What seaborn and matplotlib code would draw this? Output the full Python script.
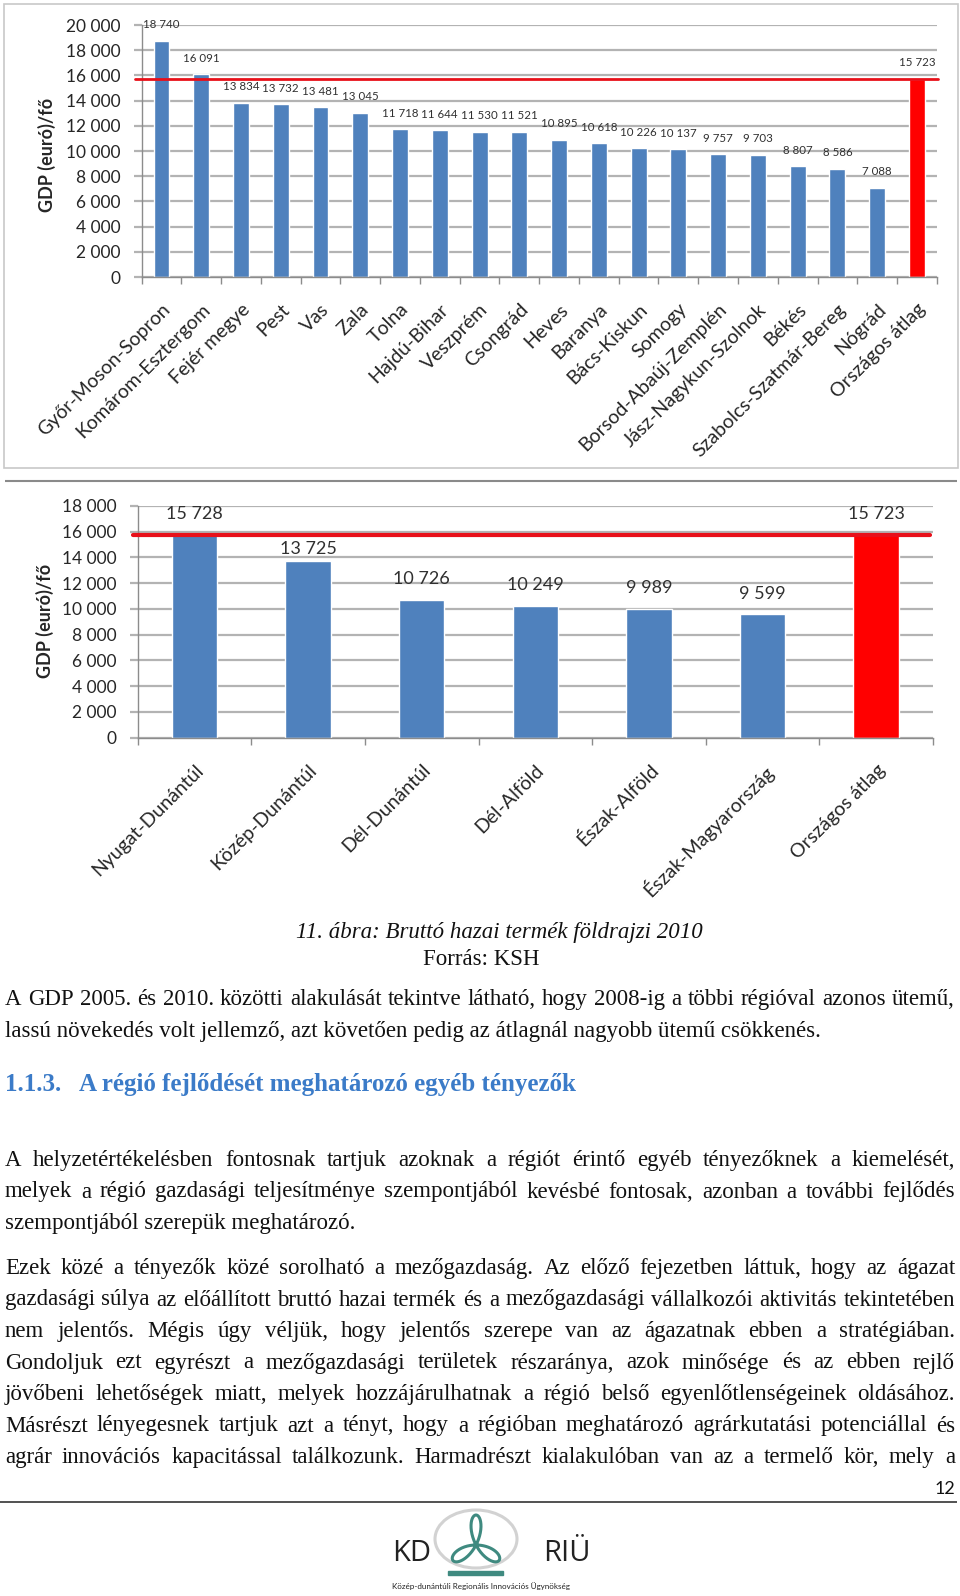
import numpy as np
import matplotlib
matplotlib.use("Agg")
import matplotlib.pyplot as plt
import seaborn as sns
from matplotlib.patches import Rectangle, Ellipse

# --- data ---
megyek = ["Győr-Moson-Sopron", "Komárom-Esztergom", "Fejér megye", "Pest", "Vas",
          "Zala", "Tolna", "Hajdú-Bihar", "Veszprém", "Csongrád", "Heves", "Baranya",
          "Bács-Kiskun", "Somogy", "Borsod-Abaúj-Zemplén", "Jász-Nagykun-Szolnok",
          "Békés", "Szabolcs-Szatmár-Bereg", "Nógrád", "Országos átlag"]
megye_gdp = [18740, 16091, 13834, 13732, 13481, 13045, 11718, 11644, 11530, 11521,
             10895, 10618, 10226, 10137, 9757, 9703, 8807, 8586, 7088, 15723]

regiok = ["Nyugat-Dunántúl", "Közép-Dunántúl", "Dél-Dunántúl", "Dél-Alföld",
          "Észak-Alföld", "Észak-Magyarország", "Országos átlag"]
regio_gdp = [15728, 13725, 10726, 10249, 9989, 9599, 15723]

orszagos_atlag = 15723

caption = "11. ábra: Bruttó hazai termék földrajzi 2010"
forras = "Forrás: KSH"
heading_num = "1.1.3."
heading = "A régió fejlődését meghatározó egyéb tényezők"

# (text, justified?)
para1 = [("A GDP 2005. és 2010. közötti alakulását tekintve látható, hogy 2008-ig a többi régióval azonos ütemű,", True),
         ("lassú növekedés volt jellemző, azt követően pedig az átlagnál nagyobb ütemű csökkenés.", False)]
para2 = [("A helyzetértékelésben fontosnak tartjuk azoknak a régiót érintő egyéb tényezőknek a kiemelését,", True),
         ("melyek a régió gazdasági teljesítménye szempontjából kevésbé fontosak, azonban a további fejlődés", True),
         ("szempontjából szerepük meghatározó.", False)]
para3 = [("Ezek közé a tényezők közé sorolható a mezőgazdaság. Az előző fejezetben láttuk, hogy az ágazat", True),
         ("gazdasági súlya az előállított bruttó hazai termék és a mezőgazdasági vállalkozói aktivitás tekintetében", True),
         ("nem jelentős. Mégis úgy véljük, hogy jelentős szerepe van az ágazatnak ebben a stratégiában.", True),
         ("Gondoljuk ezt egyrészt a mezőgazdasági területek részaránya, azok minősége és az ebben rejlő", True),
         ("jövőbeni lehetőségek miatt, melyek hozzájárulhatnak a régió belső egyenlőtlenségeinek oldásához.", True),
         ("Másrészt lényegesnek tartjuk azt a tényt, hogy a régióban meghatározó agrárkutatási potenciállal és", True),
         ("agrár innovációs kapacitással találkozunk. Harmadrészt kialakulóban van az a termelő kör, mely a", True)]

# label offsets above the bars (points); the 13 725 label sits lower in the original
megye_label_off = [11.5] * len(megyek)
regio_label_off = [15, 8.6, 15, 15, 15, 14.5, 15.5]

W, H = 960, 1596
BLUE = "#4f81bd"
RED = "#ff0000"
GRID = "#b3b3b3"
AXC = "#8c8c8c"
SANS = ["Lato", "DejaVu Sans"]
SERIF = ["Liberation Serif", "DejaVu Serif"]

sns.set_theme(style="white")
plt.rcParams["font.family"] = SANS

fig = plt.figure(figsize=(W / 100, H / 100), dpi=100)
page = fig.add_axes([0, 0, 1, 1])
page.set_xlim(0, W)
page.set_ylim(H, 0)
page.axis("off")


def px_axes(l, t, r, b):
    return fig.add_axes([l / W, 1 - b / H, (r - l) / W, (b - t) / H])


def fmt(v):
    return f"{v:,}".replace(",", " ")


def bar_chart(ax, cats, vals, ymax, val_size, val_offs, line_w, line_x):
    colors = {c: (RED if c == "Országos átlag" else BLUE) for c in cats}
    sns.barplot(x=cats, y=vals, hue=cats, palette=colors, legend=False,
                width=0.4, saturation=1, ax=ax)
    n = len(cats)
    ax.set_xlim(-0.5, n - 0.5)
    ax.set_ylim(0, ymax)
    ticks = np.arange(0, ymax + 1, 2000)
    ax.set_yticks(ticks)
    ax.set_yticklabels([fmt(t) for t in ticks])
    ax.set_axisbelow(True)
    ax.yaxis.grid(True, color=GRID, lw=1.6)
    ax.xaxis.grid(False)
    ax.tick_params(axis="y", left=True, length=6, width=1.6, color=GRID, pad=9,
                   labelsize=12.5, labelcolor="#262626")
    ax.set_xticks(range(n))
    ax.set_xticklabels(cats, rotation=45, ha="right", va="top",
                       rotation_mode="anchor", fontsize=14, color="#262626")
    ax.tick_params(axis="x", which="major", bottom=False, length=0, pad=17)
    ax.set_xticks(np.arange(-0.5, n, 1), minor=True)
    ax.tick_params(axis="x", which="minor", bottom=True, length=5, width=1, color=AXC)
    for s in ["top", "right"]:
        ax.spines[s].set_visible(False)
    for s in ["left", "bottom"]:
        ax.spines[s].set_color(AXC)
        ax.spines[s].set_linewidth(1)
    ax.set_xlabel("")
    ax.set_ylabel("")
    for i, v in enumerate(vals):
        ax.annotate(fmt(v), xy=(i, v), xytext=(0, val_offs[i]), textcoords="offset points",
                    ha="center", va="center", fontsize=val_size, color="#303030")
    ax.plot(line_x, [orszagos_atlag, orszagos_atlag], transform=ax.get_yaxis_transform(),
            color="#e8101a", lw=line_w, clip_on=False, zorder=5)


# --- chart 1: megyék ---
page.add_patch(Rectangle((4, 4), 954, 464, fill=False, edgecolor="#c8c8c8", lw=1.2))
ax1 = px_axes(141.6, 25, 936.8, 277)
bar_chart(ax1, megyek, megye_gdp, 20000, 8.3, megye_label_off, 2.0, [-0.008, 1.0015])
page.text(47, 155, "GDP (euró)/fő", rotation=90, ha="center", va="center",
          fontsize=13, fontweight="bold", color="#262626")

# --- chart 2: régiók ---
page.hlines(481, 5, 957, color="#8a8a8a", lw=1.5)
ax2 = px_axes(137.7, 506, 933, 737.5)
bar_chart(ax2, regiok, regio_gdp, 18000, 13, regio_label_off, 3.0, [-0.006, 0.996])
page.text(45, 621, "GDP (euró)/fő", rotation=90, ha="center", va="center",
          fontsize=13, fontweight="bold", color="#262626")

# --- caption ---
page.text(499, 938, caption, ha="center", va="baseline", fontsize=16.5,
          style="italic", family=SERIF, color="#111111")
page.text(481, 965, forras, ha="center", va="baseline", fontsize=16.5,
          family=SERIF, color="#111111")

# --- body text with justification ---
renderer = fig.canvas.get_renderer()
X0, X1 = 5, 955
BODY = 16.5


def natural_width(s, size):
    t = page.text(0, 0, s, fontsize=size, family=SERIF)
    w = t.get_window_extent(renderer).width
    t.remove()
    return w


widest = max(natural_width(s, BODY) for s, j in para1 + para2 + para3 if j)
if widest > (X1 - X0) * 0.995:
    BODY = BODY * (X1 - X0) * 0.995 / widest


def text_line(y, s, justify):
    if not justify:
        page.text(X0, y, s, fontsize=BODY, family=SERIF, va="baseline", color="#111111")
        return
    words = s.split(" ")
    arts = [page.text(0, y, w, fontsize=BODY, family=SERIF, va="baseline", color="#111111")
            for w in words]
    widths = [a.get_window_extent(renderer).width for a in arts]
    gap = (X1 - X0 - sum(widths)) / (len(words) - 1)
    x = X0
    for a, w in zip(arts, widths):
        a.set_x(x)
        x += w + gap


for k, (s, j) in enumerate(para1):
    text_line(1005 + k * 31.5, s, j)

page.text(5, 1091, heading_num, fontsize=18, fontweight="bold", family=SERIF,
          color="#3b7bc8", va="baseline")
page.text(79, 1091, heading, fontsize=18, fontweight="bold", family=SERIF,
          color="#3b7bc8", va="baseline")

for k, (s, j) in enumerate(para2):
    text_line(1166 + k * 31.5, s, j)
for k, (s, j) in enumerate(para3):
    text_line(1274 + k * 31.5, s, j)

# --- footer ---
page.text(955, 1494, "12", ha="right", va="baseline", fontsize=13, color="#111111")
page.hlines(1502, 0, 957, color="#333333", lw=1.2)

# logo
page.add_patch(Ellipse((476, 1539), 82, 58, fill=False, edgecolor="#d2d2d2", lw=2.2))
th = np.linspace(0, np.pi, 400)
r = np.cos(3 * (th - np.pi / 2))
page.plot(476 + 27 * r * np.cos(th), 1545 - 30 * r * np.sin(th), color="#3f8a80", lw=2.2)
page.add_patch(Rectangle((448, 1571), 55, 4, color="#3f8a80"))
page.text(392, 1561, "KD", fontsize=21, family=["Open Sans", "DejaVu Sans"],
          color="#222222", va="baseline")
page.text(543, 1561, "RIÜ", fontsize=21, family=["Open Sans", "DejaVu Sans"],
          color="#222222", va="baseline")
page.text(481, 1589, "Közép-dunántúli Regionális Innovációs Ügynökség", ha="center",
          va="baseline", fontsize=5.8, color="#222222")

fig.savefig("out.png", dpi=100)
